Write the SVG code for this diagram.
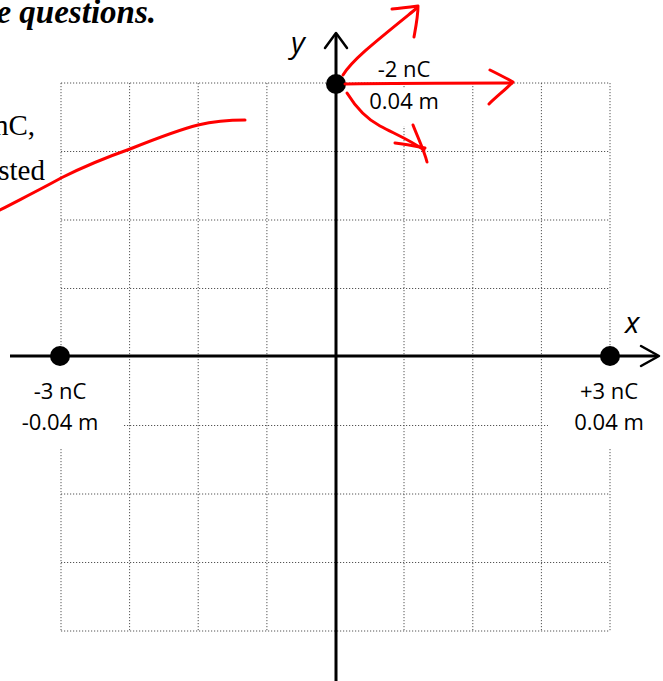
<svg xmlns="http://www.w3.org/2000/svg" width="663" height="681" viewBox="0 0 663 681">
<style>
.grid{stroke:#555;stroke-width:1;stroke-dasharray:1.2 1.8;fill:none}
.axis{stroke:#000;stroke-width:3;fill:none}
.head{stroke:#000;stroke-width:2.5;fill:none;stroke-linecap:round;stroke-linejoin:round}
.red{stroke:#ff0000;stroke-width:3;fill:none;stroke-linecap:round;stroke-linejoin:round}
.lbl{font-family:"Open Sans","Liberation Sans",sans-serif;font-size:22px;fill:#000;text-anchor:middle}
.ax{font-family:"Open Sans","Liberation Sans",sans-serif;font-size:30px;font-style:italic;fill:#000}
.serif{font-family:"Liberation Serif","Times New Roman",serif;font-size:29px;fill:#000}
.title{font-size:33px;font-weight:bold;font-style:italic}
.dot{fill:#000}
.mask{fill:#fff}
</style>
<rect width="663" height="681" fill="#fff"/>
<text class="serif title" x="156" y="23" text-anchor="end">e questions.</text>
<text class="serif" x="35" y="135" text-anchor="end">nC,</text>
<text class="serif" x="45" y="180" text-anchor="end">sted</text>
<g id="grid">
<path class="grid" d="M61,83V631M129.6,83V631M198.2,83V631M266.9,83V631M404,83V631M472.8,83V631M541.4,83V631M610,83V631"/>
<path class="grid" d="M61,83H610M61,151.5H610M61,220H610M61,288.5H610M61,425.5H610M61,494H610M61,562.5H610M61,631H610"/>
</g>
<rect class="mask" x="0" y="360" width="124" height="88"/>
<rect class="mask" x="548" y="360" width="115" height="88"/>
<rect class="mask" x="352" y="88" width="104" height="38"/>
<rect class="mask" x="352" y="52" width="104" height="29"/>
<g id="axes">
<path class="axis" d="M10,356H657"/>
<path class="head" d="M641,346L659,356L641,366"/>
<path class="axis" d="M336,35V681"/>
<path class="head" d="M325,48L336,33L347,48"/>
<text class="ax" x="291" y="53">y</text>
<text class="ax" x="625" y="333">x</text>
</g>
<g id="charge-top">
<circle class="dot" cx="336" cy="84" r="10"/>
<text class="lbl" x="404" y="77">-2 nC</text>
<text class="lbl" x="404" y="109">0.04 m</text>
</g>
<g id="charge-left">
<circle class="dot" cx="60" cy="356" r="10"/>
<text class="lbl" x="60" y="399">-3 nC</text>
<text class="lbl" x="60" y="430">-0.04 m</text>
</g>
<g id="charge-right">
<circle class="dot" cx="610" cy="356" r="10"/>
<text class="lbl" x="609" y="399">+3 nC</text>
<text class="lbl" x="609" y="430">0.04 m</text>
</g>
<g id="connectors">
<path class="red" d="M0,210C25,197 45,187 61,178C85,166 110,156 130,149C155,139 178,130 198,125C215,121 230,120 245,120"/>
<path class="red" d="M343,75C352,60 375,42 417,8"/>
<path class="red" d="M392,9C402,8 410,7 418,6C418,16 416,26 414,37"/>
<path class="red" d="M345,84C400,83 460,83 512,83"/>
<path class="red" d="M490,70C498,74 506,78 513,82C505,90 496,97 489,104"/>
<path class="red" d="M347,93C355,106 365,118 380,126C395,134 410,140 424,150"/>
<path class="red" d="M395,143C405,144 415,146 425,148"/>
<path class="red" d="M413,125C418,138 424,150 427,162"/>
</g>
</svg>
